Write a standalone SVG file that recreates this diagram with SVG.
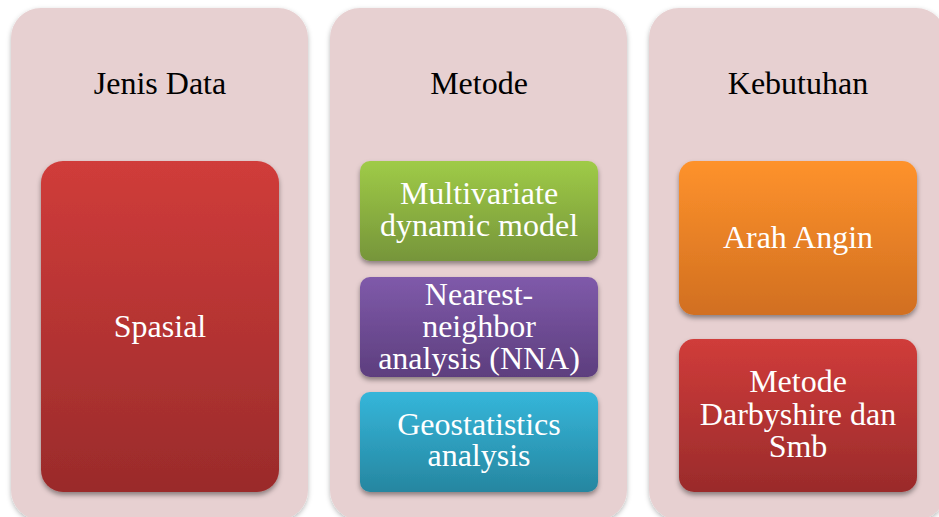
<svg xmlns="http://www.w3.org/2000/svg" width="939" height="517" viewBox="0 0 939 517">
  <defs>
    <filter id="panelShadow" x="-10%" y="-10%" width="120%" height="120%">
      <feDropShadow dx="0" dy="2" stdDeviation="2.5" flood-color="#000" flood-opacity="0.28"/>
    </filter>
    <filter id="boxShadow" x="-10%" y="-10%" width="120%" height="125%">
      <feDropShadow dx="0" dy="3" stdDeviation="2.5" flood-color="#000" flood-opacity="0.4"/>
    </filter>
    <linearGradient id="gRed" x1="0" y1="0" x2="0" y2="1">
      <stop offset="0" stop-color="#D03C3A"/>
      <stop offset="1" stop-color="#9A2B2B"/>
    </linearGradient>
    <linearGradient id="gGreen" x1="0" y1="0" x2="0" y2="1">
      <stop offset="0" stop-color="#9FCB47"/>
      <stop offset="1" stop-color="#76953A"/>
    </linearGradient>
    <linearGradient id="gPurple" x1="0" y1="0" x2="0" y2="1">
      <stop offset="0" stop-color="#7F5AAA"/>
      <stop offset="1" stop-color="#5D3E7E"/>
    </linearGradient>
    <linearGradient id="gCyan" x1="0" y1="0" x2="0" y2="1">
      <stop offset="0" stop-color="#35B6DA"/>
      <stop offset="1" stop-color="#2686A0"/>
    </linearGradient>
    <linearGradient id="gOrange" x1="0" y1="0" x2="0" y2="1">
      <stop offset="0" stop-color="#FE922C"/>
      <stop offset="1" stop-color="#D16F20"/>
    </linearGradient>
  </defs>
  <style>
    .panel { fill: #E7D0D1; filter: url(#panelShadow); }
    .box { filter: url(#boxShadow); }
    .head { font-family: "Liberation Serif", "Times New Roman", serif; font-size: 32px; fill: #000; text-anchor: middle; }
    .lbl { font-family: "Liberation Serif", "Times New Roman", serif; font-size: 32px; fill: #fff; text-anchor: middle; }
  </style>

  <!-- column: Jenis Data -->
  <g id="col-jenis-data">
    <rect class="panel" x="11" y="8" width="297" height="512" rx="30"/>
    <text class="head" x="160" y="94">Jenis Data</text>
  </g>
  <g id="node-spasial">
    <rect class="box" x="41" y="161" width="238" height="331" rx="22" fill="url(#gRed)"/>
    <text class="lbl" x="160" y="337">Spasial</text>
  </g>

  <!-- column: Metode -->
  <g id="col-metode">
    <rect class="panel" x="330" y="8" width="297" height="512" rx="30"/>
    <text class="head" x="479" y="94">Metode</text>
  </g>
  <g id="node-multivariate">
    <rect class="box" x="360" y="161" width="238" height="100" rx="10" fill="url(#gGreen)"/>
    <text class="lbl" x="479" y="204">Multivariate</text>
    <text class="lbl" x="479" y="236">dynamic model</text>
  </g>
  <g id="node-nna">
    <rect class="box" x="360" y="277" width="238" height="100" rx="10" fill="url(#gPurple)"/>
    <text class="lbl" x="479" y="305">Nearest-</text>
    <text class="lbl" x="479" y="337">neighbor</text>
    <text class="lbl" x="479" y="369">analysis (NNA)</text>
  </g>
  <g id="node-geostatistics">
    <rect class="box" x="360" y="392" width="238" height="100" rx="10" fill="url(#gCyan)"/>
    <text class="lbl" x="479" y="435">Geostatistics</text>
    <text class="lbl" x="479" y="466">analysis</text>
  </g>

  <!-- column: Kebutuhan -->
  <g id="col-kebutuhan">
    <rect class="panel" x="649" y="8" width="297" height="512" rx="30"/>
    <text class="head" x="798" y="94">Kebutuhan</text>
  </g>
  <g id="node-arah-angin">
    <rect class="box" x="679" y="161" width="238" height="154" rx="15" fill="url(#gOrange)"/>
    <text class="lbl" x="798" y="248">Arah Angin</text>
  </g>
  <g id="node-darbyshire">
    <rect class="box" x="679" y="339" width="238" height="153" rx="15" fill="url(#gRed)"/>
    <text class="lbl" x="798" y="392">Metode</text>
    <text class="lbl" x="798" y="425">Darbyshire dan</text>
    <text class="lbl" x="798" y="457">Smb</text>
  </g>

  <!-- no connectors in this layout -->
  <g id="connectors"/>
</svg>
